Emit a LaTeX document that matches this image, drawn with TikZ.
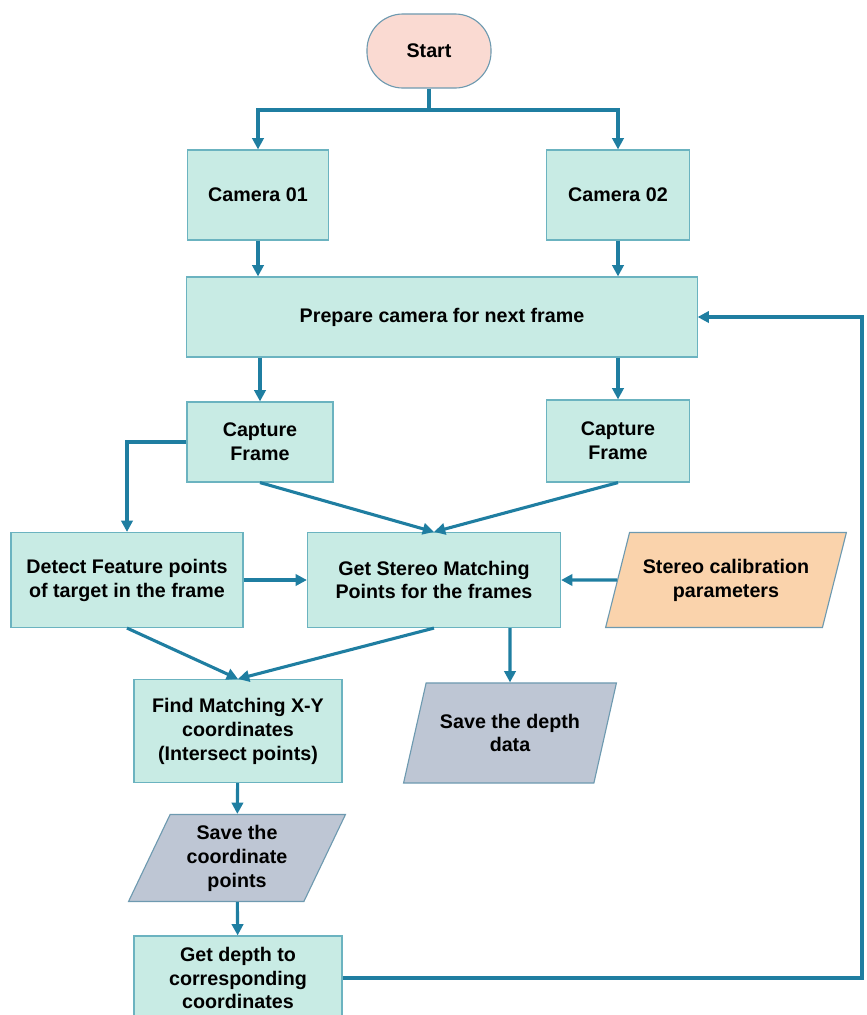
\documentclass[tikz,border=0pt]{standalone}
\usepackage{fontspec}
\setmainfont{Liberation Sans}
\usetikzlibrary{shapes.geometric,arrows.meta}
\definecolor{procfill}{HTML}{C8EBE4}
\definecolor{procline}{HTML}{6BB3C0}
\definecolor{flowline}{HTML}{1F7EA1}
\definecolor{startfill}{HTML}{FADAD2}
\definecolor{calibfill}{HTML}{FAD3AC}
\definecolor{savefill}{HTML}{BEC6D4}
\definecolor{saveline}{HTML}{6E9AB0}
\begin{document}
\begin{tikzpicture}[x=0.025cm,y=-0.025cm,
	font=\fontsize{14}{17}\selectfont\bfseries,
	proc/.style={draw=procline,fill=procfill,line width=0.8pt,align=center,inner sep=2pt},
	io/.style={trapezium,trapezium left angle=65,trapezium right angle=115,trapezium stretches=true,
		draw=saveline,line width=0.8pt,align=center,inner sep=1pt},
	flow/.style={draw=flowline,line width=2.2pt,-{Triangle[length=8pt,width=8pt]}},
	plain/.style={draw=flowline,line width=2.2pt}]
	\useasboundingbox (0,0) rectangle (867,1015);
	\node[proc,fill=startfill,draw=saveline,rounded corners=0.9cm,minimum width=3.1cm,minimum height=1.85cm] (start) at (429,51) {Start};
	\node[proc,minimum width=3.525cm,minimum height=2.25cm] (cam1) at (258,195) {Camera 01};
	\node[proc,minimum width=3.575cm,minimum height=2.25cm] (cam2) at (618,195) {Camera 02};
	\node[proc,minimum width=12.75cm,minimum height=2cm] (prep) at (442,317) {Prepare camera for next frame};
	\node[proc,minimum width=3.65cm,minimum height=2cm] (cap1) at (260,442) {Capture\\Frame};
	\node[proc,minimum width=3.575cm,minimum height=2.05cm] (cap2) at (618,441) {Capture\\Frame};
	\node[proc,minimum width=5.8cm,minimum height=2.375cm] (detect) at (127,580) {Detect Feature points\\of target in the frame};
	\node[proc,minimum width=6.325cm,minimum height=2.375cm] (getst) at (434,580) {Get Stereo Matching\\Points for the frames};
	\node[io,fill=calibfill,minimum width=6.025cm,minimum height=2.375cm] (calib) at (726,580) {Stereo calibration\\parameters};
	\node[proc,minimum width=5.2cm,minimum height=2.575cm] (find) at (238,731) {Find Matching X-Y\\coordinates\\(Intersect points)};
	\node[io,fill=savefill,minimum width=5.325cm,minimum height=2.5cm] (depth) at (510,733) {Save the depth\\data};
	\node[io,fill=savefill,minimum width=5.425cm,minimum height=2.175cm] (savec) at (237,858) {Save the\\coordinate\\points};
	\node[proc,minimum width=5.2cm,minimum height=2.1cm] (getd) at (238,978) {Get depth to\\corresponding\\coordinates};
	\coordinate (split) at (429,110);
	\coordinate (rail) at (862,317);
	\draw[plain] (start) -- (split);
	\draw[flow] (split) -| (cam1);
	\draw[flow] (split) -| (cam2);
	\draw[flow] (cam1) -- (cam1 |- prep.north);
	\draw[flow] (cam2) -- (cam2 |- prep.north);
	\draw[flow] (cap1 |- prep.south) -- (cap1);
	\draw[flow] (cap2 |- prep.south) -- (cap2);
	\draw[flow] (cap1.west) -| (detect);
	\draw[flow] (cap1.south) -- (getst.north);
	\draw[flow] (cap2.south) -- (getst.north);
	\draw[flow] (detect) -- (getst);
	\draw[flow] (calib) -- (getst);
	\draw[flow] (detect.south) -- (find.north);
	\draw[flow] (getst.south) -- (find.north);
	\draw[flow] (depth |- getst.south) -- (depth);
	\draw[flow] (find) -- (savec);
	\draw[flow] (savec) -- (getd);
	\draw[flow] (getd.east) -| (rail) -- (prep.east);
\end{tikzpicture}
\end{document}
